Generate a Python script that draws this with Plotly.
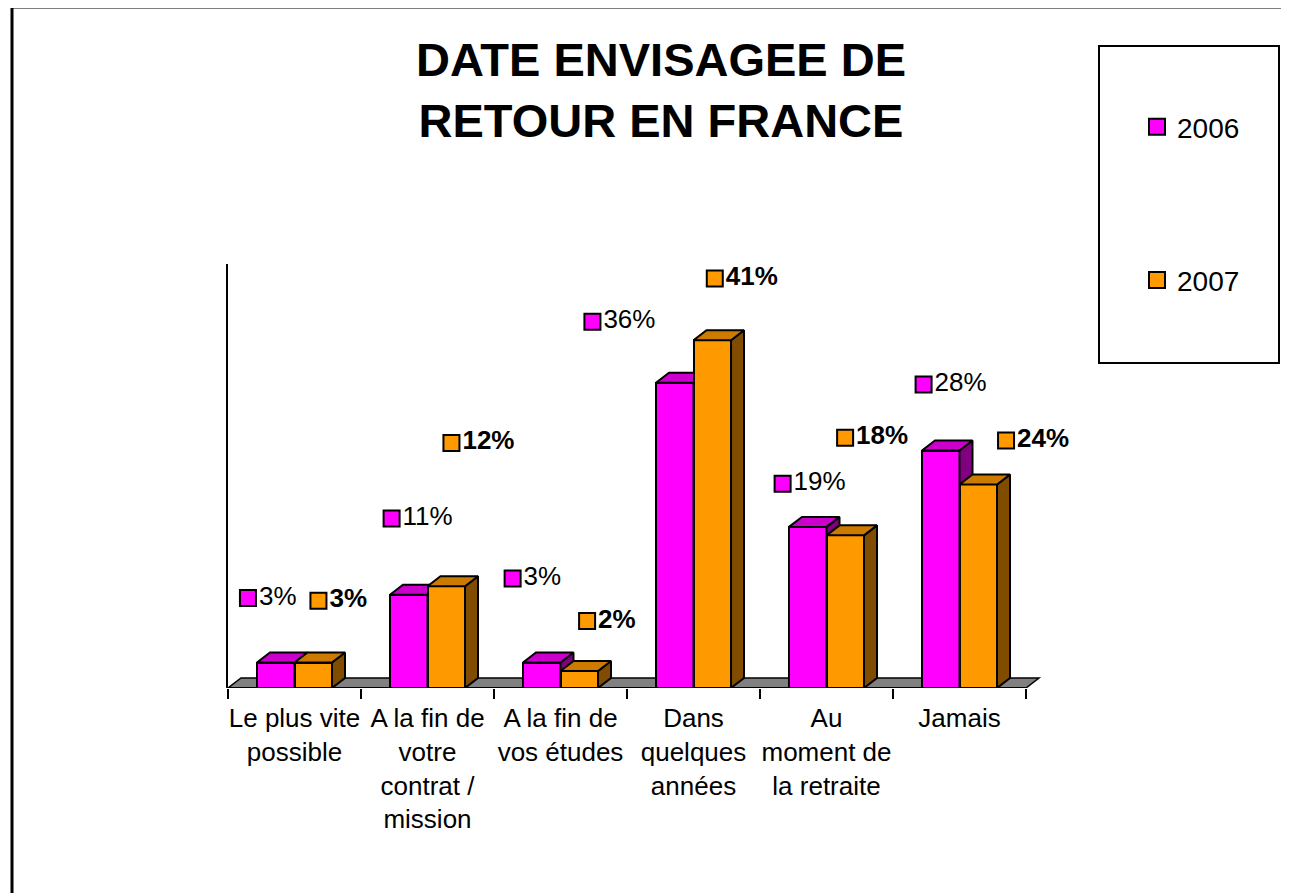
import plotly.graph_objects as go

# data
categories = ["Le plus vite<br>possible", "A la fin de<br>votre<br>contrat /<br>mission",
              "A la fin de<br>vos études", "Dans<br>quelques<br>années",
              "Au<br>moment de<br>la retraite", "Jamais"]
values_2006 = [3, 11, 3, 36, 19, 28]
values_2007 = [3, 12, 2, 41, 18, 24]

# label placement (offsets from each bar, in axis units) - Excel had them dragged around
label_dx_2006 = [-0.35, -0.27, -0.36, -0.76, -0.33, -0.27]
label_dy_2006 = [7.6, 9.0, 9.9, 7.2, 5.1, 7.8]
label_dx_2007 = [0.18, 0.18, 0.20, 0.16, 0.14, 0.35]
label_dy_2007 = [7.3, 16.9, 5.9, 7.3, 11.5, 5.2]

W, H = 1289, 893
OFF = 8                                  # page body margin
PL, PR, PT, PB = 228, 1042, 264, 688     # plot area, screen pixels
XR = [-0.5, -0.5 + (PR - PL) / 133.0]
YR = [0, 50]
BW = 0.282                               # bar width
DX, DY = 13 / 133.0, 10 * (YR[1] / (PB - PT))   # 3d depth
FONT = "Liberation Sans, Arial, sans-serif"


def px_x(p):
    return (p - PL) / (PR - PL)


def px_y(p):
    return (PB - p) / (PB - PT)


def faces(vals, offset):
    """side and top polygons of the 3d bars"""
    sx, sy, tx, ty = [], [], [], []
    for i, v in enumerate(vals):
        xl = i + offset
        xr = xl + BW
        sx += [xr, xr + DX, xr + DX, xr, xr, None]
        sy += [0, DY, v + DY, v, 0, None]
        tx += [xl, xr, xr + DX, xl + DX, xl, None]
        ty += [v, v, v + DY, v + DY, v, None]
    return sx, sy, tx, ty


fig = go.Figure()
xs = list(range(len(categories)))

series = [
    ("2006", values_2006, -BW, "#FF00FF", "#CC00CC", "#800080", "x", "y"),
    ("2007", values_2007, 0.0, "#FF9900", "#CC7A00", "#7F4C00", "x2", "y2"),
]
for name, vals, off, c_front, c_top, c_side, xa, ya in series:
    fig.add_trace(go.Bar(
        x=xs, y=vals, width=BW, offset=off, name=name, showlegend=False,
        marker=dict(color=c_front, line=dict(color="black", width=2)),
        xaxis=xa, yaxis=ya, hoverinfo="skip"
    ))
    sx, sy, tx, ty = faces(vals, off)
    fig.add_trace(go.Scatter(x=sx, y=sy, mode="lines", fill="toself", fillcolor=c_side,
                             line=dict(color="black", width=2), showlegend=False,
                             xaxis=xa, yaxis=ya, hoverinfo="skip"))
    fig.add_trace(go.Scatter(x=tx, y=ty, mode="lines", fill="toself", fillcolor=c_top,
                             line=dict(color="black", width=2), showlegend=False,
                             xaxis=xa, yaxis=ya, hoverinfo="skip"))
    # legend entry with a square key
    fig.add_trace(go.Scatter(x=[None], y=[None], mode="markers", name=name,
                             legendgroup=name,
                             marker=dict(symbol="square", size=16, color=c_front,
                                         line=dict(color="black", width=2))))

# data labels with their little legend keys
for vals, dxs, dys, color, bold in [(values_2006, label_dx_2006, label_dy_2006, "#FF00FF", False),
                                    (values_2007, label_dx_2007, label_dy_2007, "#FF9900", True)]:
    txt = [f"<b>{v}%</b>" if bold else f"{v}%" for v in vals]
    fig.add_trace(go.Scatter(
        x=[i + d for i, d in enumerate(dxs)],
        y=[v + d for v, d in zip(vals, dys)],
        mode="markers+text", text=txt, textposition="middle right",
        textfont=dict(family=FONT, size=26, color="black"),
        marker=dict(symbol="square", size=16, color=color, line=dict(color="black", width=2)),
        showlegend=False, xaxis="x2", yaxis="y2", hoverinfo="skip", cliponaxis=False
    ))

shapes = [
    # floor
    dict(type="path", xref="x", yref="y", layer="below",
         path=f"M -0.5,0 L 5.5,0 L {5.5 + DX},{DY} L {-0.5 + DX},{DY} Z",
         fillcolor="#808080", line=dict(color="black", width=1.5)),
    dict(type="line", xref="x", yref="y", x0=-0.5, x1=5.5, y0=0, y1=0,
         line=dict(color="black", width=2)),
    # legend box
    dict(type="rect", xref="paper", yref="paper", x0=px_x(1099), x1=px_x(1279),
         y0=px_y(363), y1=px_y(46), line=dict(color="black", width=2)),
    # outer frame
    dict(type="rect", xref="paper", yref="paper", x0=px_x(12), x1=px_x(1400),
         y0=px_y(1000), y1=px_y(7), line=dict(color="black", width=3)),
]

fig.update_layout(
    width=W, height=H,
    margin=dict(l=PL - OFF, r=W - (PR - OFF), t=PT - OFF, b=H - (PB - OFF)),
    paper_bgcolor="white", plot_bgcolor="rgba(0,0,0,0)",
    barmode="overlay", bargap=0,
    font=dict(family=FONT, size=24, color="black"),
    title=dict(text="<b>DATE ENVISAGEE DE<br>RETOUR EN FRANCE</b>",
               font=dict(family=FONT, size=47, color="black"),
               x=(661 - OFF) / W, xanchor="center", xref="container",
               y=1 - 68 / H, yanchor="top", yref="container"),
    xaxis=dict(range=XR, tickmode="array", tickvals=xs, ticktext=categories,
               ticks="", showgrid=False, zeroline=False, showline=False,
               tickfont=dict(family=FONT, size=26, color="black"),
               ticklabelstandoff=12,
               minor=dict(tickmode="linear", tick0=-0.5, dtick=1, ticks="outside",
                          ticklen=10, tickwidth=2, tickcolor="black", showgrid=False)),
    yaxis=dict(range=YR, showticklabels=False, ticks="", showgrid=False, zeroline=False,
               showline=True, linecolor="black", linewidth=2),
    xaxis2=dict(range=XR, overlaying="x", anchor="y2", visible=False),
    yaxis2=dict(range=YR, overlaying="y", anchor="x2", visible=False),
    legend=dict(x=px_x(1137), y=px_y(102), xanchor="left", yanchor="top",
                font=dict(family=FONT, size=28, color="black"),
                bgcolor="rgba(0,0,0,0)", borderwidth=0, tracegroupgap=114),
    shapes=shapes,
)

fig.write_html("out.html")
